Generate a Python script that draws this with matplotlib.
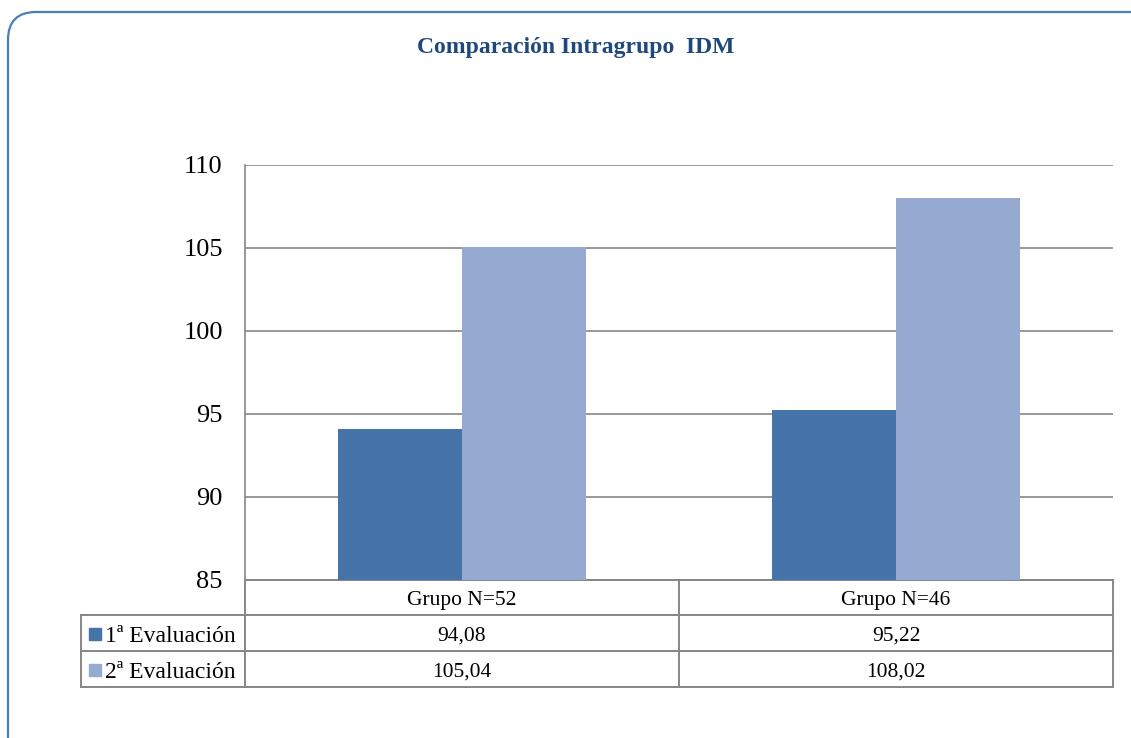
import numpy as np
import matplotlib.pyplot as plt
from matplotlib.patches import FancyBboxPatch, Rectangle

# data
groups = ['Grupo N=52', 'Grupo N=46']
series = ['1ª Evaluación', '2ª Evaluación']
eval1 = [94.08, 95.22]
eval2 = [105.04, 108.02]
labels1 = ['94,08', '95,22']
labels2 = ['105,04', '108,02']
yticks = [85, 90, 95, 100, 105, 110]

col1 = '#4674A8'
col2 = '#95A9D1'
grid = '#868686'
serif = ['Liberation Serif', 'DejaVu Serif']

W, H = 1131, 738
fig = plt.figure(figsize=(W / 100, H / 100), dpi=100)

# background layer in pixel coords
bg = fig.add_axes([0, 0, 1, 1], zorder=0)
bg.set_xlim(0, W)
bg.set_ylim(H, 0)
bg.axis('off')
bg.add_patch(FancyBboxPatch((8, 12), W + 40, H + 40,
                            boxstyle='round,pad=0,rounding_size=28',
                            fc='white', ec='#4A7EBB', lw=1.6))

# bar axes
x0, x1, ytop, ybot = 245, 1113, 165, 580
ax = fig.add_axes([x0 / W, 1 - ybot / H, (x1 - x0) / W, (ybot - ytop) / H], zorder=2)
ax.patch.set_alpha(0)
x = np.arange(len(groups))
bw = 0.285
ax.bar(x - bw / 2, eval1, bw, color=col1, zorder=3)
ax.bar(x + bw / 2, eval2, bw, color=col2, zorder=3)
ax.set_xlim(-0.5, len(groups) - 0.5)
ax.set_ylim(85, 110)
ax.set_yticks(yticks)
ax.set_yticklabels([str(t) for t in yticks], fontfamily=serif, fontsize=19)
ax.yaxis.grid(True, color=grid, lw=1.2, zorder=0)
ax.set_xticks([])
ax.tick_params(axis='y', length=0, pad=16)
for s in ['top', 'right', 'bottom']:
    ax.spines[s].set_visible(False)
ax.spines['left'].set_color(grid)
ax.spines['left'].set_linewidth(1.2)

# title
bg.text(576, 48, 'Comparación Intragrupo  IDM', ha='center', va='center',
        fontfamily=serif, fontsize=17, fontweight='bold', color='#1F497D')

# data table below the plot
rows = [580, 615, 651, 687]
xl = 81
mid = (x0 + x1) / 2
lc = grid
lw = 1.4
# horizontal lines
bg.plot([x0, x1], [rows[0], rows[0]], color=lc, lw=lw)
for r in rows[1:]:
    bg.plot([xl, x1], [r, r], color=lc, lw=lw)
# vertical lines
bg.plot([x0, x0], [rows[0], rows[3]], color=lc, lw=lw)
bg.plot([mid, mid], [rows[0], rows[3]], color=lc, lw=lw)
bg.plot([x1, x1], [rows[0], rows[3]], color=lc, lw=lw)
bg.plot([xl, xl], [rows[1], rows[3]], color=lc, lw=lw)

centers = [(x0 + mid) / 2, (mid + x1) / 2]
tfs = 15.5
dy = 3
for i, g in enumerate(groups):
    bg.text(centers[i], (rows[0] + rows[1]) / 2 + dy, g, ha='center', va='center',
            fontfamily=serif, fontsize=tfs)
    bg.text(centers[i], (rows[1] + rows[2]) / 2 + dy, labels1[i], ha='center', va='center',
            fontfamily=serif, fontsize=tfs)
    bg.text(centers[i], (rows[2] + rows[3]) / 2 + dy, labels2[i], ha='center', va='center',
            fontfamily=serif, fontsize=tfs)

for j, (name, c) in enumerate(zip(series, [col1, col2])):
    yc = (rows[j + 1] + rows[j + 2]) / 2
    bg.add_patch(Rectangle((89, yc - 5), 12, 12, color=c))
    bg.text(105, yc + dy, name, ha='left', va='center', fontfamily=serif, fontsize=17)

fig.savefig('out.png', dpi=100)
